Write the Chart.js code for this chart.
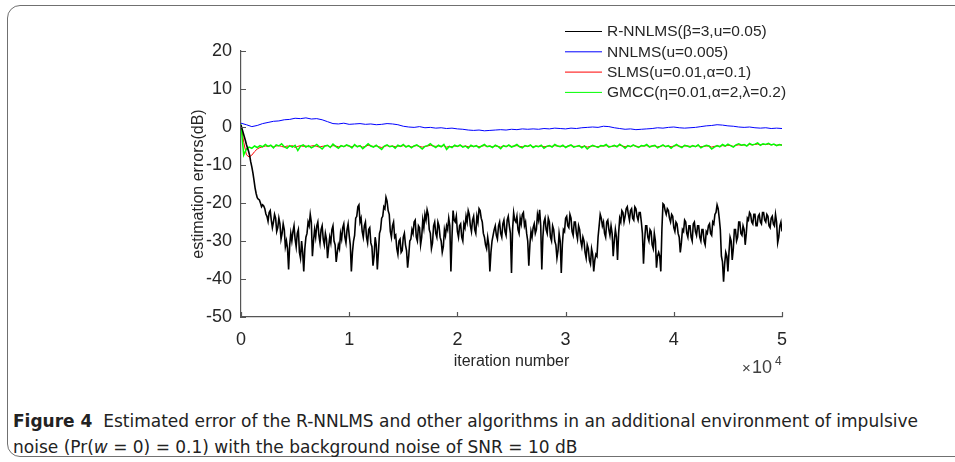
<!DOCTYPE html>
<html>
<head>
<meta charset="utf-8">
<script src="https://cdn.jsdelivr.net/npm/chart.js@4.4.0/dist/chart.umd.min.js"></script>
<style>
  html, body { margin: 0; padding: 0; background: #fff; }
  body { width: 955px; height: 462px; position: relative; overflow: hidden; }
  #frame { position: absolute; left: 7px; top: 5px; width: 1000px; height: 450px;
           border: 1.5px solid #707070; border-radius: 13px; }
  #wrap { position: absolute; left: 0; top: 0; width: 955px; height: 380px; }
  #caption { position: absolute; left: 13px; top: 408px; color: #222;
             font-family: "DejaVu Sans Condensed", "Liberation Sans Narrow", sans-serif;
             font-size: 17.5px; line-height: 26px; white-space: nowrap; transform-origin: left top; }
  #caption b { font-weight: bold; }
</style>
</head>
<body>
<div id="frame"></div>
<div id="wrap"><canvas id="errChart" width="955" height="380"></canvas></div>
<div id="caption"><span id="capLine1"><b>Figure 4</b>&nbsp; Estimated error of the R-NNLMS and other algorithms in an additional environment of impulsive</span><br><span>noise (Pr(<i>w</i> = 0) = 0.1) with the background noise of SNR = 10 dB</span></div>

<script>
'use strict';

// legend text, same order as the legend in the figure
const legendLabels = ['R-NNLMS(β=3,u=0.05)', 'NNLMS(u=0.005)', 'SLMS(u=0.01,α=0.1)', 'GMCC(η=0.01,α=2,λ=0.2)'];
const xTicks = [0, 1, 2, 3, 4, 5];          // x 10^4
const yTicks = [20, 10, 0, -10, -20, -30, -40, -50];

// sampling step (iterations) of each curve
const STEP_RNNLMS = 100;
const STEP_NNLMS = 500;
const STEP_SLMS = 250;
const STEP_GMCC = 250;

// R-NNLMS estimation error (dB)
const rnnlmsErr = [
  0.5, -0.5, -1.5, -2.5, -3.5, -4.6, -5.5, -6.4, -7.5, -9.2,
  -10.5, -12.1, -14, -16, -17.5, -18.6, -19, -19.2, -20, -21,
  -20.5, -20.8, -21.5, -22.9, -23.5, -24.8, -22.5, -22.0, -24.5, -26.5,
  -25, -23.0, -24, -27.5, -26.5, -24.0, -25.5, -29.5, -28, -25.5,
  -27, -31.5, -30, -32, -37.5, -31, -28, -30, -27.5, -26,
  -29.5, -31.5, -28, -27, -33, -34.5, -30, -33, -38, -32,
  -29, -28, -25, -26, -23, -25, -34, -30, -27, -29,
  -26, -25, -28.5, -30.5, -27, -26, -29.5, -31, -28, -29.5,
  -34.5, -31.5, -29, -30.5, -27, -26, -30, -31, -35.5, -33,
  -31, -32, -28, -29.5, -26.5, -25.5, -29, -30.5, -27, -25.5,
  -28.5, -31, -38, -33, -30, -28.5, -24, -23.5, -21, -20.5,
  -25, -24, -27.5, -29, -26, -25, -29, -30.5, -27, -26.5,
  -30.5, -31.5, -36.5, -34, -29, -31, -37.5, -33, -28, -27,
  -24, -23.5, -21, -21.5, -18.5, -19.5, -22, -23, -27.5, -29,
  -26, -25, -29, -28.5, -32, -33.5, -30, -29.5, -33, -32.5,
  -29, -28, -31, -32.5, -37, -34, -30, -29.5, -27, -28,
  -25, -24.5, -29, -30, -26, -26.5, -31, -29, -24.5, -26.5,
  -23, -24.5, -21.8, -23, -27, -28, -32, -30.5, -26, -25,
  -28, -29, -25, -26, -29, -30, -33, -31.5, -27, -28.5,
  -26, -27, -24, -26, -38, -29, -22, -24.5, -25, -23.5,
  -27.5, -29, -26, -25.5, -29, -30, -25.5, -26.5, -23.5, -25,
  -22, -23, -26, -27.5, -24.5, -23.5, -27, -28, -23.5, -25,
  -21.5, -22, -24, -25, -28, -29, -31, -32, -29, -31,
  -38, -33, -30, -28.5, -27, -26, -28.5, -29.5, -26, -25,
  -28, -29, -25.5, -24.5, -27.5, -28.5, -24.5, -23.5, -26, -28,
  -38.4, -27, -22.6, -24.5, -25, -23.5, -27, -28, -24, -25.5,
  -23, -22.5, -26, -25, -28, -30, -36.5, -31, -27.5, -29,
  -26.5, -25.5, -28, -27, -23, -24.5, -21.8, -26, -37.5, -29,
  -25, -24, -27, -28, -24, -25, -29, -30, -26, -27,
  -30, -31, -34.5, -32.5, -28, -30, -38.4, -31, -27, -27.5,
  -24, -23.5, -26, -26.5, -23, -24, -27.5, -28.5, -25, -25,
  -28, -29.5, -26, -27, -30, -31.5, -29, -30, -33, -34.5,
  -31, -32, -35, -36, -32, -33.5, -38, -35, -33.5, -34,
  -29, -26, -23, -24, -26, -25, -28, -29, -25, -24.5,
  -27, -28.5, -26, -28, -34, -30, -27, -29, -35, -28,
  -24, -25, -22, -22.5, -25, -23.5, -21.5, -21, -23, -24.5,
  -22, -21.5, -24, -24.5, -21, -21.5, -23.5, -24.5, -22.5, -22.5,
  -25, -28, -36, -30, -26, -26, -29, -30, -27, -27.5,
  -31, -32, -28, -30, -37, -34, -33, -34, -38, -27,
  -20.2, -20.5, -22, -23, -21.5, -22, -24, -25, -23, -23.5,
  -26.5, -27.5, -25, -25.5, -28, -29, -33, -30.5, -27, -27.5,
  -24.5, -25, -28, -29, -26, -26, -29, -30, -25.5, -25,
  -27.5, -28.5, -26, -26, -29, -30, -27, -27, -30, -31,
  -27.5, -28, -26, -25.5, -28, -28.5, -25, -25.5, -23, -22.5,
  -20.5, -21.5, -24, -27, -34, -35.5, -40.7, -36, -33, -34,
  -38, -33, -29, -30, -35, -32, -27, -27, -30, -29,
  -25, -25, -28, -28.5, -26, -27, -31, -28, -24, -24.5,
  -22.5, -23, -25, -25.5, -23, -23, -26, -26, -23.5, -23,
  -25, -25.5, -22.5, -22.5, -24.5, -25, -23, -23.5, -26, -26.5,
  -24, -23.5, -25.5, -26, -23, -25, -30.5, -29, -26, -25,
  -27.5
];

// NNLMS estimation error (dB)
const nnlmsErr = [
  1.0, 0.6, 0.1, 0.4, 0.9, 1.2, 1.5, 1.6, 1.9, 2.0,
  2.3, 2.2, 2.4, 2.1, 2.2, 1.9, 1.4, 0.9, 0.8, 1.0,
  0.7, 0.8, 0.9, 0.7, 0.8, 0.6, 0.7, 0.9, 0.8, 0.6,
  0.2, 0.0, -0.1, 0.1, -0.2, -0.1, -0.3, -0.2, -0.4, -0.3,
  -0.5, -0.6, -0.8, -0.9, -0.8, -1.0, -0.9, -0.8, -0.7, -0.8,
  -0.6, -0.7, -0.5, -0.6, -0.5, -0.6, -0.4, -0.5, -0.3, -0.4,
  -0.5, -0.3, -0.4, -0.2, -0.1, 0.0, -0.1, 0.2, 0.1, -0.2,
  -0.4, -0.6, -0.5, -0.7, -0.6, -0.5, -0.4, -0.2, -0.3, -0.1,
  0.0, -0.2, -0.3, -0.2, -0.1, 0.1, 0.3, 0.4, 0.6, 0.5,
  0.3, 0.2, 0.0, -0.1, 0.0, -0.2, -0.3, -0.2, -0.4, -0.3,
  -0.4
];

// SLMS estimation error (dB), mostly hidden under GMCC
const slmsErr = [
  0.5, -4.0, -7.3, -7.9, -7.4, -6.5, -5.8, -5.4, -5.2, -5.0,
  -5.1, -4.9, -5.2, -5.0, -4.9, -5.1, -5.3, -5.0, -5.1, -4.9,
  -5.4, -5.1, -4.9, -5.1, -5.0, -5.2, -5.0, -4.9, -5.1, -5.3,
  -5.1, -5.0, -4.9, -5.2, -4.9, -5.0, -5.2, -5.0, -5.1, -4.9,
  -5.0, -5.2, -4.9, -5.1, -5.0, -5.3, -5.1, -4.8, -5.0, -5.1,
  -5.0, -5.2, -5.4, -5.1, -4.9, -5.1, -5.0, -5.2, -5.0, -5.1,
  -4.9, -5.1, -5.0, -5.2, -5.0, -4.9, -5.1, -5.3, -5.1, -5.0,
  -4.8, -5.0, -5.1, -5.0, -5.1, -4.9, -5.3, -5.1, -5.2, -5.0,
  -5.1, -4.9, -5.1, -5.0, -5.2, -5.0, -5.1, -5.0, -5.2, -5.0,
  -4.9, -5.1, -5.0, -5.2, -5.0, -5.1, -5.3, -5.0, -5.1, -4.9,
  -5.1, -5.0, -4.9, -5.1, -5.2, -5.0, -5.1, -4.9, -5.2, -5.0,
  -5.1, -5.0, -5.2, -5.1, -5.0, -5.1, -4.9, -5.0, -5.1, -5.0,
  -5.2, -5.0, -4.9, -5.1, -5.1, -5.0, -5.2, -5.0, -5.3, -5.1,
  -5.0, -5.1, -5.2, -5.0, -5.0, -4.9, -5.1, -5.1, -5.0, -5.1,
  -4.8, -5.0, -5.2, -5.0, -5.1, -4.9, -5.0, -5.2, -5.0, -5.0,
  -4.9, -5.1, -5.0, -5.0, -5.2, -5.1, -4.9, -5.1, -5.0, -5.2,
  -5.0, -4.9, -5.0, -5.2, -5.0, -5.0, -5.1, -5.0, -5.1, -4.9,
  -5.2, -5.1, -5.0, -5.0, -5.3, -5.1, -5.0, -5.1, -4.9, -5.0,
  -4.8, -4.9, -5.1, -4.8, -4.7, -4.8, -4.7, -4.9, -4.6, -4.7,
  -4.6, -4.5, -4.7, -4.6, -4.6, -4.5, -4.7, -4.6, -4.8, -4.7,
  -4.7
];

// GMCC estimation error (dB)
const gmccErr = [
  0.7, -7.4, -5.8, -5.3, -5.6, -5.0, -5.4, -4.9, -5.2, -4.6,
  -5.1, -4.8, -5.5, -4.7, -5.0, -4.4, -5.2, -5.6, -4.9, -5.3,
  -4.8, -6.2, -5.0, -4.7, -5.3, -4.9, -5.5, -5.1, -4.6, -5.2,
  -5.8, -5.0, -4.8, -5.4, -4.5, -5.1, -5.6, -4.9, -5.2, -4.7,
  -5.0, -5.5, -4.6, -5.2, -4.9, -5.7, -5.1, -4.4, -5.0, -5.3,
  -4.8, -5.4, -5.9, -5.0, -4.7, -5.2, -5.0, -5.6, -4.8, -5.1,
  -4.6, -5.3, -4.9, -5.5, -5.0, -4.7, -5.2, -5.8, -5.1, -4.9,
  -4.4, -5.0, -5.4, -4.8, -5.2, -4.6, -5.9, -5.1, -5.4, -4.8,
  -5.1, -4.7, -5.3, -5.0, -5.6, -4.8, -5.2, -4.9, -5.5, -5.0,
  -4.6, -5.2, -5.0, -5.4, -4.8, -5.1, -5.7, -4.9, -5.2, -4.7,
  -5.3, -5.0, -4.6, -5.2, -5.5, -4.9, -5.1, -4.7, -5.4, -5.0,
  -5.2, -4.8, -5.6, -5.1, -4.9, -5.3, -4.6, -5.0, -5.2, -4.8,
  -5.4, -5.0, -4.7, -5.3, -5.1, -4.9, -5.5, -5.0, -5.8, -5.2,
  -4.8, -5.1, -5.4, -4.9, -5.0, -4.6, -5.3, -5.1, -4.8, -5.2,
  -4.5, -5.0, -5.6, -4.9, -5.2, -4.7, -5.1, -5.4, -4.9, -5.0,
  -4.6, -5.3, -5.0, -4.8, -5.5, -5.1, -4.7, -5.2, -4.9, -5.6,
  -5.0, -4.6, -5.1, -5.4, -4.8, -5.0, -5.3, -4.9, -5.2, -4.7,
  -5.5, -5.1, -4.8, -5.0, -5.8, -5.3, -4.9, -5.2, -4.6, -5.0,
  -4.5, -4.9, -5.3, -4.7, -4.4, -4.8, -4.6, -5.0, -4.3, -4.7,
  -4.5, -4.2, -4.8, -4.4, -4.6, -4.3, -4.7, -4.5, -4.9, -4.6,
  -4.8
];

const FONT = '"Liberation Sans", Arial, Helvetica, sans-serif';
const TEXT_COLOR = '#262626';
const AXIS_COLOR = '#555';

function toPoints(values, step) {
  return values.map(function (v, i) { return { x: i * step, y: v }; });
}

// MATLAB style inward ticks, the x10^4 exponent and the legend
const matlabDecor = {
  id: 'matlabDecor',
  afterDraw(chart) {
    const ctx = chart.ctx;
    const xs = chart.scales.x, ys = chart.scales.y;
    const area = chart.chartArea;
    ctx.save();
    ctx.strokeStyle = AXIS_COLOR;
    ctx.lineWidth = 1.2;
    ctx.beginPath();
    xs.ticks.forEach(function (t) {
      const px = Math.round(xs.getPixelForValue(t.value)) + 0.5;
      ctx.moveTo(px, area.bottom);
      ctx.lineTo(px, area.bottom - 5);
    });
    ys.ticks.forEach(function (t) {
      const py = Math.round(ys.getPixelForValue(t.value)) + 0.5;
      ctx.moveTo(area.left, py);
      ctx.lineTo(area.left + 5, py);
    });
    ctx.stroke();

    // exponent under the x axis
    ctx.fillStyle = '#404040';
    ctx.textBaseline = 'alphabetic';
    ctx.textAlign = 'left';
    ctx.font = '15px ' + FONT;
    ctx.fillText('×', area.right - 40, 373);
    ctx.font = '18px ' + FONT;
    ctx.fillText('10', area.right - 30, 373);
    ctx.font = '12px ' + FONT;
    ctx.fillText('4', area.right - 7, 365);

    // legend
    ctx.font = '15.5px ' + FONT;
    ctx.textBaseline = 'middle';
    chart.data.datasets.forEach(function (ds, i) {
      const y = 31 + i * 20.3;
      ctx.strokeStyle = ds.borderColor;
      ctx.lineWidth = 1;
      ctx.beginPath();
      ctx.moveTo(565, y + 0.5);
      ctx.lineTo(602, y + 0.5);
      ctx.stroke();
      ctx.fillStyle = TEXT_COLOR;
      ctx.fillText(ds.label, 607, y + 1);
    });
    ctx.restore();
  }
};

const ctx = document.getElementById('errChart').getContext('2d');
new Chart(ctx, {
  type: 'line',
  data: {
    datasets: [
      { label: legendLabels[0], data: toPoints(rnnlmsErr, STEP_RNNLMS), borderColor: '#000000', borderWidth: 1.6, order: 0 },
      { label: legendLabels[1], data: toPoints(nnlmsErr, STEP_NNLMS), borderColor: '#0000ff', borderWidth: 1, order: 1 },
      { label: legendLabels[2], data: toPoints(slmsErr, STEP_SLMS), borderColor: '#ff0000', borderWidth: 1, order: 3 },
      { label: legendLabels[3], data: toPoints(gmccErr, STEP_GMCC), borderColor: '#00ff00', borderWidth: 1.5, order: 2 }
    ]
  },
  options: {
    responsive: false,
    animation: false,
    events: [],
    layout: { padding: { left: 185, right: 173, top: 51, bottom: 5 } },
    elements: { point: { radius: 0 }, line: { tension: 0, fill: false } },
    plugins: { legend: { display: false }, tooltip: { enabled: false } },
    scales: {
      x: {
        type: 'linear', min: 0, max: 50000,
        afterBuildTicks: function (s) { s.ticks = xTicks.map(function (v) { return { value: v * 10000 }; }); },
        ticks: {
          callback: function (v) { return v / 10000; },
          color: TEXT_COLOR, font: { family: FONT, size: 18 }, padding: 12, maxRotation: 0
        },
        grid: { display: false, drawTicks: false },
        border: { color: AXIS_COLOR, width: 1.2 },
        title: { display: true, text: 'iteration number', color: TEXT_COLOR, font: { family: FONT, size: 16 } },
        afterFit: function (s) { s.height = 58; }
      },
      y: {
        type: 'linear', min: -50, max: 20,
        afterBuildTicks: function (s) { s.ticks = yTicks.map(function (v) { return { value: v }; }); },
        ticks: { color: TEXT_COLOR, font: { family: FONT, size: 18 }, padding: 9 },
        grid: { display: false, drawTicks: false },
        border: { color: AXIS_COLOR, width: 1.2 },
        title: { display: true, text: 'estimation errors(dB)', color: TEXT_COLOR, font: { family: FONT, size: 16 } },
        afterFit: function (s) { s.width = 56; }
      }
    }
  },
  plugins: [matlabDecor]
});

// stretch the caption so its first line spans the same width as in the figure
const capLine1 = document.getElementById('capLine1');
const capWidth = capLine1.getBoundingClientRect().width;
document.getElementById('caption').style.transform = 'scaleX(' + (905 / capWidth) + ')';
</script>
</body>
</html>
